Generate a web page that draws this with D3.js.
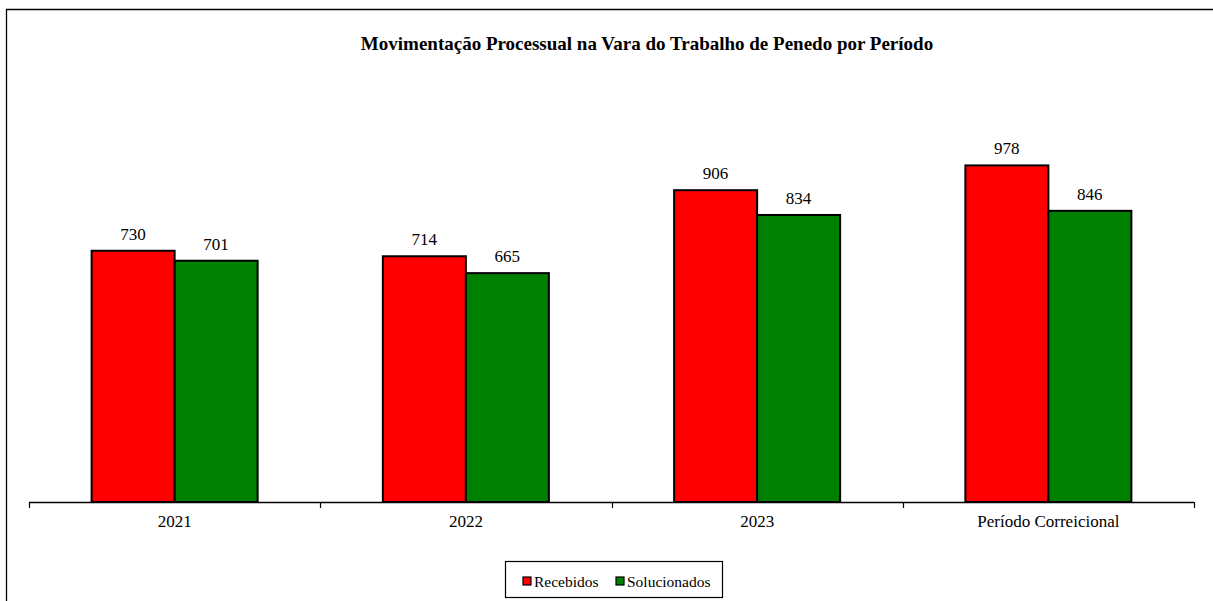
<!DOCTYPE html>
<html>
<head>
<meta charset="utf-8">
<script src="https://cdn.jsdelivr.net/npm/d3@7"></script>
<style>
  body { margin: 0; background: #fff; }
  text { font-family: "Liberation Serif", "Times New Roman", serif; fill: #000; }
</style>
</head>
<body>
<svg width="1213" height="601"></svg>
<script>
(function() {
    'use strict';

// data
var categories = ["2021", "2022", "2023", "Período Correicional"];
var seriesNames = ["Recebidos", "Solucionados"];
var recebidos = [730, 714, 906, 978];
var solucionados = [701, 665, 834, 846];
var colors = ["#ff0000", "#008000"];

var rows = categories.map(function(c, i) {
  return {cat: c, values: [recebidos[i], solucionados[i]]};
});

var svg = d3.select("svg");

// outer frame (only top and left visible)
svg.append("path")
   .attr("d", "M6.5,601V9.5H1213")
   .attr("fill", "none")
   .attr("stroke", "#000")
   .attr("stroke-width", 1.3);

svg.append("text")
   .attr("x", 647)
   .attr("y", 50)
   .attr("text-anchor", "middle")
   .style("font-size", "19px")
   .style("font-weight", "bold")
   .text("Movimentação Processual na Vara do Trabalho de Penedo por Período");

var x0 = d3.scaleBand().domain(categories).range([29, 1194]).paddingInner(0.43).paddingOuter(0.215);
var x1 = d3.scaleBand().domain(seriesNames).range([0, x0.bandwidth()]);
var y = d3.scaleLinear().domain([0, 1200]).range([502, 89]);

var groups = svg.selectAll(".grp")
   .data(rows)
   .enter().append("g")
   .attr("class", "grp")
   .attr("transform", function(d) { return "translate(" + x0(d.cat) + ",0)"; });

groups.selectAll("rect")
   .data(function(d) { return d.values.map(function(v, i) { return {name: seriesNames[i], v: v, i: i}; }); })
   .enter().append("rect")
   .attr("x", function(d) { return x1(d.name); })
   .attr("y", function(d) { return y(d.v); })
   .attr("width", x1.bandwidth())
   .attr("height", function(d) { return y(0) - y(d.v); })
   .attr("fill", function(d) { return colors[d.i]; })
   .attr("stroke", "#000")
   .attr("stroke-width", 2);

groups.selectAll(".lbl")
   .data(function(d) { return d.values.map(function(v, i) { return {name: seriesNames[i], v: v}; }); })
   .enter().append("text")
   .attr("class", "lbl")
   .attr("x", function(d) { return x1(d.name) + x1.bandwidth() / 2; })
   .attr("y", function(d) { return y(d.v) - 11; })
   .attr("text-anchor", "middle")
   .style("font-size", "17px")
   .text(function(d) { return d.v; });

// category axis with ticks between categories
var step = x0.step();
var ticks = d3.range(categories.length + 1).map(function(i) { return 29 + i * step; });
svg.append("line")
   .attr("x1", 29).attr("x2", 1194)
   .attr("y1", y(0) + 0.5).attr("y2", y(0) + 0.5)
   .attr("stroke", "#000").attr("stroke-width", 1.3);
svg.selectAll(".tick")
   .data(ticks)
   .enter().append("line")
   .attr("class", "tick")
   .attr("x1", function(d) { return Math.round(d) + 0.5; })
   .attr("x2", function(d) { return Math.round(d) + 0.5; })
   .attr("y1", y(0)).attr("y2", y(0) + 6)
   .attr("stroke", "#000").attr("stroke-width", 1.2);
svg.selectAll(".cat")
   .data(categories)
   .enter().append("text")
   .attr("class", "cat")
   .attr("x", function(d) { return x0(d) + x0.bandwidth() / 2; })
   .attr("y", 527)
   .attr("text-anchor", "middle")
   .style("font-size", "17px")
   .text(function(d) { return d; });

// legend
var lg = svg.append("g");
lg.append("rect")
  .attr("x", 505.5).attr("y", 561.5).attr("width", 217).attr("height", 36)
  .attr("fill", "#fff").attr("stroke", "#000").attr("stroke-width", 1.2);
var legX = [523, 616];
var items = lg.selectAll(".li")
  .data(seriesNames)
  .enter().append("g")
  .attr("transform", function(d, i) { return "translate(" + legX[i] + ",577)"; });
items.append("rect")
  .attr("width", 8).attr("height", 8)
  .attr("fill", function(d, i) { return colors[i]; })
  .attr("stroke", "#000").attr("stroke-width", 1.2);
items.append("text")
  .attr("x", 11).attr("y", 9.5)
  .style("font-size", "15.5px")
  .text(function(d) { return d; });

})();
</script>
</body>
</html>
